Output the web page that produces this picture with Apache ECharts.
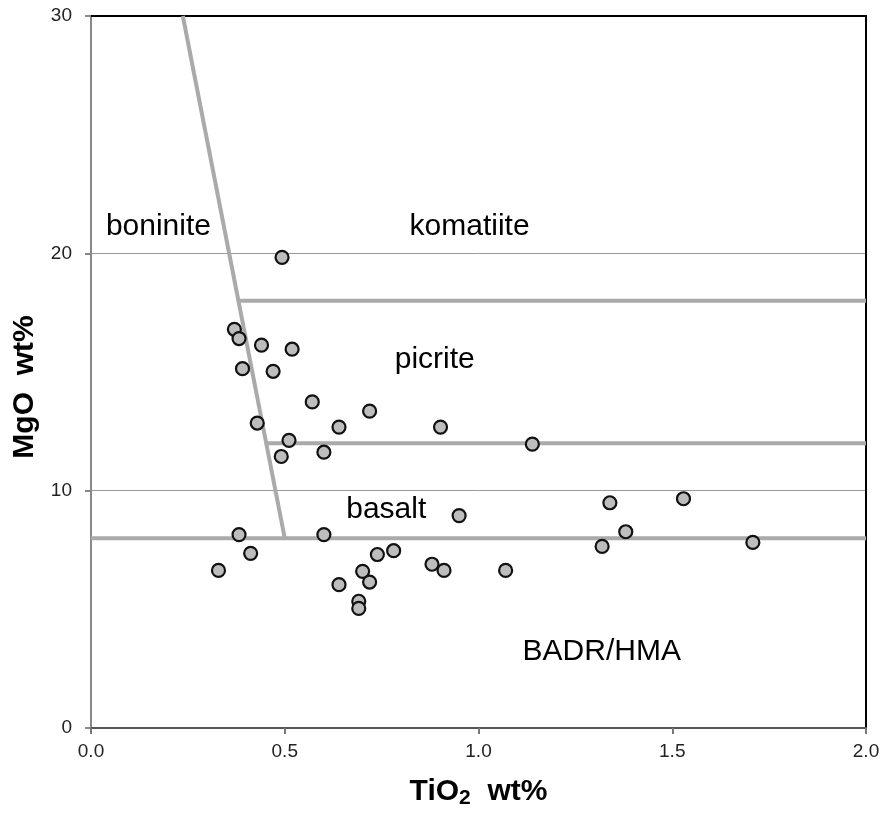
<!DOCTYPE html>
<html>
<head>
<meta charset="utf-8">
<title>TiO2 vs MgO</title>
<script src="https://cdn.jsdelivr.net/npm/echarts@6/dist/echarts.min.js"></script>
<style>
  html, body {
    margin: 0;
    padding: 0;
    background: #fff;
  }
  #chart_main {
    width: 893px;
    height: 814px;
  }
</style>
</head>
<body>
<div id="chart_main"></div>
<script>
// 样品数据 TiO2 wt% / MgO wt%
const tio2 = [
  0.493, 0.370, 0.382, 0.440, 0.519, 0.391, 0.470, 0.571, 0.719, 0.429,
  0.640, 0.902, 0.511, 1.139, 0.601, 0.491, 0.950, 1.339, 1.529, 0.382,
  0.601, 1.380, 1.319, 1.708, 0.412, 0.739, 0.781, 0.329, 0.701, 0.880,
  0.911, 1.070, 0.719, 0.640, 0.691, 0.691
]
const mgo = [
  19.83, 16.80, 16.41, 16.13, 15.96, 15.14, 15.03, 13.74, 13.35, 12.85,
  12.68, 12.68, 12.12, 11.96, 11.62, 11.44, 8.95, 9.49, 9.66, 8.15,
  8.15, 8.27, 7.65, 7.82, 7.36, 7.31, 7.47, 6.64, 6.60, 6.90,
  6.64, 6.64, 6.15, 6.04, 5.34, 5.04
]

// 分区边界线
const lineDiag = [[0.237, 30], [0.5, 8]]
const line18 = [[0.38, 18], [2.0, 18]]
const line12 = [[0.452, 12], [2.0, 12]]
const line8 = [[0, 8], [2.0, 8]]

// 分区名称
const fieldNames = ['boninite', 'komatiite', 'picrite', 'basalt', 'BADR/HMA']
const fieldPos = [[0.174, 21.13], [0.977, 21.13], [0.887, 15.53], [0.762, 9.2], [1.318, 3.23]]

// 刻度
const xTicks = [0, 0.5, 1.0, 1.5, 2.0]
const yTicks = [0, 10, 20, 30]

const font = "'Liberation Sans', Arial, sans-serif"

let points = tio2.map((x, i) => [x, mgo[i]])
let fields = fieldPos.map((p, i) => ({ value: p, name: fieldNames[i] }))

function boundary (data) {
  return {
    type: 'line',
    data: data,
    symbol: 'none',
    silent: true,
    z: 3,
    lineStyle: { color: '#aaaaaa', width: 4 }
  }
}

let myChart = echarts.init(document.getElementById('chart_main'))
myChart.setOption({
  animation: false,
  grid: { left: 91, right: 27, top: 16, bottom: 80 },
  xAxis: [
    {
      type: 'value',
      min: xTicks[0],
      max: xTicks[xTicks.length - 1],
      interval: 0.5,
      name: '{b|TiO}{s|2}{b|  wt%}',
      nameLocation: 'middle',
      nameGap: 46,
      nameTextStyle: {
        rich: {
          b: { fontFamily: font, fontSize: 30, fontWeight: 'bold', color: '#000' },
          s: { fontFamily: font, fontSize: 21, fontWeight: 'bold', color: '#000', verticalAlign: 'bottom', padding: [14, 0, 0, 0] }
        }
      },
      axisLine: { lineStyle: { color: '#555', width: 2 } },
      axisTick: { show: true, length: 6, lineStyle: { color: '#777', width: 2 } },
      axisLabel: {
        margin: 14,
        fontFamily: font,
        fontSize: 19,
        color: '#222',
        formatter: v => v.toFixed(1)
      },
      splitLine: { show: false }
    },
    {
      type: 'value',
      position: 'top',
      min: 0,
      max: 2,
      axisLine: { show: true, onZero: false, lineStyle: { color: '#000', width: 2 } },
      axisTick: { show: false },
      axisLabel: { show: false },
      splitLine: { show: false }
    }
  ],
  yAxis: [
    {
      type: 'value',
      min: yTicks[0],
      max: yTicks[yTicks.length - 1],
      interval: 10,
      name: 'MgO  wt%',
      nameLocation: 'middle',
      nameGap: 38,
      nameTextStyle: {
        fontFamily: font,
        fontSize: 30,
        fontWeight: 'bold',
        color: '#000',
        padding: [0, 30, 0, 0]
      },
      axisLine: { show: true, lineStyle: { color: '#888', width: 2 } },
      axisTick: { show: true, length: 6, lineStyle: { color: '#888', width: 2 } },
      axisLabel: { margin: 19, fontFamily: font, fontSize: 19, color: '#222' },
      splitLine: { show: true, lineStyle: { color: '#999', width: 1 } }
    },
    {
      type: 'value',
      position: 'right',
      min: 0,
      max: 30,
      axisLine: { show: true, onZero: false, lineStyle: { color: '#000', width: 2 } },
      axisTick: { show: false },
      axisLabel: { show: false },
      splitLine: { show: false }
    }
  ],
  series: [
    boundary(lineDiag),
    boundary(line18),
    boundary(line12),
    boundary(line8),
    {
      // 分区文字
      type: 'scatter',
      data: fields,
      symbolSize: 0,
      silent: true,
      z: 4,
      itemStyle: { opacity: 1 },
      label: {
        show: true,
        position: 'inside',
        formatter: p => p.name,
        fontFamily: font,
        fontSize: 30,
        color: '#000'
      }
    },
    {
      // 样品点
      type: 'scatter',
      data: points,
      symbol: 'circle',
      symbolSize: 13,
      z: 5,
      itemStyle: { color: '#bdbdbd', borderColor: '#111', borderWidth: 2.2, opacity: 1 }
    }
  ]
})
</script>
</body>
</html>
